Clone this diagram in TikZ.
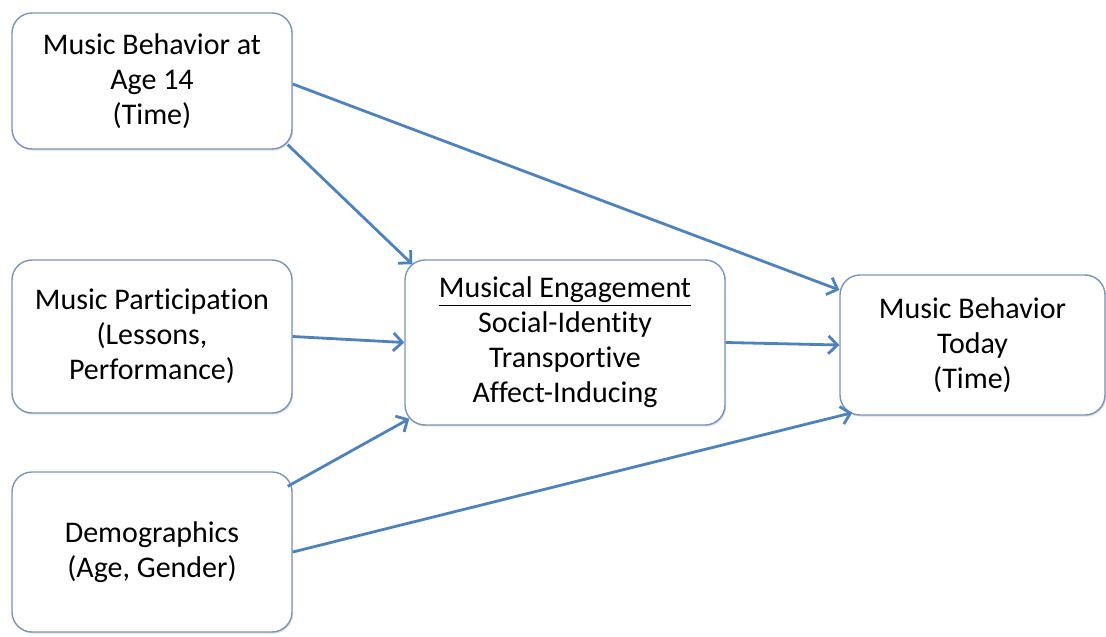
\documentclass[tikz,border=0pt]{standalone}
\usepackage{fontspec}
\setmainfont{Carlito}[Ligatures=NoCommon]
\usetikzlibrary{shadows, arrows.meta}
\definecolor{boxline}{RGB}{125,148,182}
\definecolor{arrowblue}{RGB}{79,129,189}
\tikzstyle{box} = [draw=boxline, line width=0.7pt, fill=white, rounded corners=10pt, align=center, font=\fontsize{15}{17.5}\selectfont, drop shadow={shadow xshift=0.6pt, shadow yshift=-0.8pt, opacity=0.25}]
\tikzstyle{line} = [draw, line width=1.4pt, color=arrowblue, -{Straight Barb[length=4.5pt, width=9pt]}]
\newcommand{\factor}[5]{
  node (#1) [box, minimum width=#2, minimum height=#3] at #4 {#5}}
\newcommand{\link}[2]{
  \path [line] (#1) -- (#2);}

\begin{document}
\begin{tikzpicture}[x=0.5pt, y=-0.5pt]
		\useasboundingbox (0,0) rectangle (1106,636);
		
		% Draw diagram elements
		\path \factor{age}{140pt}{68pt}{(152,81)}{Music Behavior at\\Age 14\\(Time)};
		\path \factor{part}{140pt}{76.5pt}{(152,336.5)}{Music Participation\\(Lessons,\\Performance)};
		\path \factor{demo}{140pt}{80pt}{(152,552)}{Demographics\\(Age, Gender)};
		\path \factor{eng}{160pt}{82.5pt}{(565,342.5)}{\underline{Musical Engagement}\\Social-Identity\\Transportive\\Affect-Inducing};
		\path \factor{today}{132.5pt}{70pt}{(972.5,345)}{Music Behavior\\Today\\(Time)};
		
		% Draw arrows between elements
		\link{[xshift=-2.5pt, yshift=2.5pt]age.south east}{[xshift=4pt, yshift=-2.5pt]eng.north west};
		\link{[yshift=-1.5pt]age.east}{[yshift=27.5pt]today.west};
		\link{part.east}{eng.west};
		\link{[xshift=-2.5pt, yshift=-7.5pt]demo.north east}{[xshift=2.5pt, yshift=3.5pt]eng.south west};
		\link{demo.east}{[xshift=6.5pt, yshift=1.5pt]today.south west};
		\link{eng.east}{today.west};
		
	\end{tikzpicture}
\end{document}
